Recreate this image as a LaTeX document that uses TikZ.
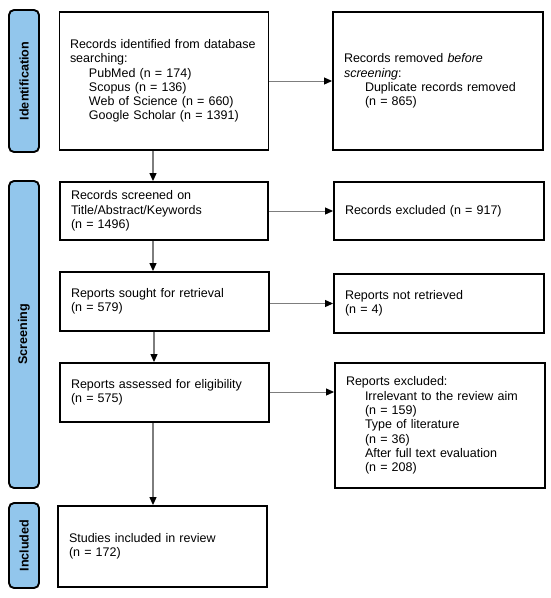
\documentclass[tikz,border=0pt]{standalone}
\usepackage{fontspec}
\setmainfont{Liberation Sans}
\usetikzlibrary{arrows.meta}
\definecolor{barblue}{RGB}{146,198,236}
\definecolor{conngray}{RGB}{125,125,125}
\begin{document}
\begin{tikzpicture}[x=1pt,y=-1pt,
  txt/.style={font=\fontsize{12.5}{14.3}\selectfont},
  box/.style={draw=black, line width=1.9pt, rectangle, inner xsep=11pt, inner ysep=0pt, align=left, txt},
  bar/.style={draw=black, line width=1.9pt, fill=barblue, rounded corners=5pt, rotate=90,
    minimum height=30pt, inner sep=0pt, font=\fontsize{12.6}{14}\selectfont\bfseries},
  vconn/.style={draw=conngray, line width=1.3pt, -{Triangle[length=8pt,width=7pt,black]}},
  hconn/.style={draw=conngray, line width=1pt, -{Triangle[length=8pt,width=7pt,black]}}]
\useasboundingbox (0,0) rectangle (550,598);

% side bars
\node[bar, minimum width=142pt] (barid) at (24,81) {Identification};
\node[bar, minimum width=307pt] (barscr) at (24,334.5) {Screening};
\node[bar, minimum width=85pt] (barinc) at (24,545.5) {Included};

% boxes
\node[box, inner xsep=10.5pt, text width=188pt, minimum height=138pt] (b1) at (164,81)
  {Records identified from database\\searching:\\
   \hspace*{19pt}PubMed (n = 174)\\
   \hspace*{19pt}Scopus (n = 136)\\
   \hspace*{19pt}Web of Science (n = 660)\\
   \hspace*{19pt}Google Scholar (n = 1391)};
\node[box, text width=188pt, minimum height=138pt] (b2) at (438,81)
  {Records removed \emph{before}\\\emph{screening}:\\
   \hspace*{21pt}Duplicate records removed\\
   \hspace*{21pt}(n = 865)};
\node[box, text width=186pt, minimum height=58pt] (b3) at (164,211)
  {Records screened on\\Title/Abstract/Keywords\\(n = 1496)};
\node[box, text width=188pt, minimum height=58pt] (b4) at (439,211)
  {Records excluded (n = 917)};
\node[box, text width=187pt, minimum height=59pt] (b5) at (164.5,301.5)
  {Reports sought for retrieval\\(n = 579)};
\node[box, text width=188pt, minimum height=59pt] (b6) at (439,303.5)
  {Reports not retrieved\\(n = 4)};
\node[box, text width=187pt, minimum height=59pt] (b7) at (164.5,392.5)
  {Reports assessed for eligibility\\(n = 575)};
\node[box, text width=188pt, minimum height=125pt] (b8) at (440,425.5)
  {Reports excluded:\\
   \hspace*{19pt}Irrelevant to the review aim\\
   \hspace*{19pt}(n = 159)\\
   \hspace*{19pt}Type of literature\\
   \hspace*{19pt}(n = 36)\\
   \hspace*{19pt}After full text evaluation\\
   \hspace*{19pt}(n = 208)};
\node[box, text width=187pt, minimum height=81pt] (b9) at (162.5,546.5)
  {Studies included in review\\(n = 172)};

% vertical connectors
\draw[vconn] ([xshift=-11pt]b1.south) -- ([xshift=-11pt]b1.south |- b3.north);
\draw[vconn] ([xshift=-11pt]b3.south) -- ([xshift=-11pt]b3.south |- b5.north);
\draw[vconn] ([xshift=-10.5pt]b5.south) -- ([xshift=-10.5pt]b5.south |- b7.north);
\draw[vconn] ([xshift=-11.5pt]b7.south) -- ([xshift=-11.5pt]b7.south |- b9.north);

% horizontal connectors
\draw[hconn] (b1.east) -- (b2.west);
\draw[hconn] (b3.east) -- (b4.west);
\draw[hconn] (b6.west -| b5.east) -- (b6.west);
\draw[hconn] ([yshift=0.5pt]b7.east) -- ([yshift=0.5pt]b7.east -| b8.west);
\end{tikzpicture}
\end{document}
